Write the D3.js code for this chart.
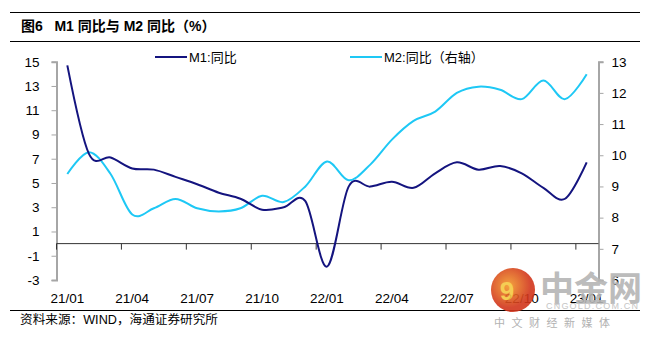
<!DOCTYPE html>
<html><head><meta charset="utf-8">
<script src="https://cdn.jsdelivr.net/npm/d3@7"></script>
<style>
body{margin:0;background:#fff;}
svg{display:block;font-family:Arial,"Liberation Sans","Noto Sans CJK SC",sans-serif;}
</style></head>
<body><svg id="c" width="647" height="339"></svg>
<script>
const months = ["21/01","21/02","21/03","21/04","21/05","21/06","21/07","21/08","21/09","21/10","21/11","21/12",
  "22/01","22/02","22/03","22/04","22/05","22/06","22/07","22/08","22/09","22/10","22/11","22/12","23/01"];
const m1 = [14.7,7.4,7.1,6.2,6.1,5.5,4.9,4.2,3.7,2.8,3.0,3.5,-1.9,4.7,4.7,5.1,4.6,5.8,6.7,6.1,6.4,5.8,4.6,3.7,6.7];
const m2 = [9.4,10.1,9.4,8.1,8.3,8.6,8.3,8.2,8.3,8.7,8.5,9.0,9.8,9.2,9.7,10.5,11.1,11.4,12.0,12.2,12.1,11.8,12.4,11.8,12.6];
const leftTicks = [-3,-1,1,3,5,7,9,11,13,15];
const rightTicks = [6,7,8,9,10,11,12,13];
const xLabels = ["21/01","21/04","21/07","21/10","22/01","22/04","22/07","22/10","23/01"];
const title = "图6   M1 同比与 M2 同比（%）";
const source = "资料来源：WIND，海通证券研究所";

const svg = d3.select("#c");
const x = d3.scaleBand().domain(months).range([56.5, 597.5]);
const xc = d => x(d) + x.bandwidth()/2;
const yL = d3.scaleLinear().domain([-3,15]).range([280, 61.7]);
const yR = d3.scaleLinear().domain([6,13]).range([280, 61.7]);

// header / footer rules
svg.append("line").attr("x1",10).attr("x2",640).attr("y1",12.5).attr("y2",12.5).attr("stroke","#000").attr("stroke-width",1.2);
svg.append("line").attr("x1",10).attr("x2",640).attr("y1",41.5).attr("y2",41.5).attr("stroke","#000").attr("stroke-width",1.2);
svg.append("line").attr("x1",10).attr("x2",640).attr("y1",310.5).attr("y2",310.5).attr("stroke","#000").attr("stroke-width",1.2);
svg.append("text").attr("x",21).attr("y",31).attr("font-size",14).attr("font-weight","bold").attr("fill","#000")
  .attr("xml:space","preserve").style("white-space","pre").text(title);
svg.append("text").attr("x",20).attr("y",324).attr("font-size",12).attr("fill","#000")
  .attr("textLength",198).attr("lengthAdjust","spacingAndGlyphs").text(source);

// axes
const fmt = d => String(d);
const axL = svg.append("g").attr("transform","translate(56.5,0)")
  .call(d3.axisLeft(yL).tickValues(leftTicks).tickFormat(fmt).tickSize(5).tickPadding(12));
const axR = svg.append("g").attr("transform","translate(598.5,0)")
  .call(d3.axisRight(yR).tickValues(rightTicks).tickFormat(fmt).tickSize(5).tickPadding(8));
[axL,axR].forEach(a=>{
  a.select(".domain").attr("stroke","#a6a6a6").attr("stroke-width",2);
  a.selectAll(".tick line").attr("stroke","#a6a6a6").attr("stroke-width",1);
  a.selectAll("text").attr("font-size",13.5).attr("fill","#000").attr("font-family","Arial,'Liberation Sans',sans-serif");
});

// zero line and x ticks
const y0 = yL(0);
svg.append("line").attr("x1",56.5).attr("x2",598.5).attr("y1",y0).attr("y2",y0).attr("stroke","#333").attr("stroke-width",1);
const tickIdx = d3.range(0, months.length, 3);
svg.selectAll(".xt").data(tickIdx).enter().append("line")
  .attr("x1",i=>x(months[i])).attr("x2",i=>x(months[i]))
  .attr("y1",y0).attr("y2",y0+6).attr("stroke","#333").attr("stroke-width",1);
svg.selectAll(".xl").data(xLabels).enter().append("text")
  .attr("x",d=>xc(d)).attr("y",303).attr("text-anchor","middle").attr("font-size",13.5).attr("fill","#000").text(d=>d);

// lines
const lineL = d3.line().x((d,i)=>xc(months[i])).y(d=>yL(d)).curve(d3.curveCardinal.tension(0));
const lineR = d3.line().x((d,i)=>xc(months[i])).y(d=>yR(d)).curve(d3.curveCardinal.tension(0));
svg.append("path").attr("d",lineR(m2)).attr("fill","none").attr("stroke","#1ec8f5").attr("stroke-width",2);
svg.append("path").attr("d",lineL(m1)).attr("fill","none").attr("stroke","#14147f").attr("stroke-width",2);

// legend
svg.append("line").attr("x1",155).attr("x2",187).attr("y1",57).attr("y2",57).attr("stroke","#14147f").attr("stroke-width",2);
svg.append("text").attr("x",189).attr("y",61.5).attr("font-size",13).text("M1:同比");
svg.append("line").attr("x1",350).attr("x2",382).attr("y1",57).attr("y2",57).attr("stroke","#1ec8f5").attr("stroke-width",2);
svg.append("text").attr("x",384).attr("y",61.5).attr("font-size",13).text("M2:同比（右轴）");

// watermark
const wm = svg.append("g").attr("opacity",0.9);
const grad = svg.append("defs").append("radialGradient").attr("id","wg").attr("cx","40%").attr("cy","40%");
grad.append("stop").attr("offset","0%").attr("stop-color","#f39a2a");
grad.append("stop").attr("offset","100%").attr("stop-color","#d2361c");
wm.append("circle").attr("cx",513).attr("cy",290).attr("r",22).attr("fill","url(#wg)");
wm.append("text").attr("x",507).attr("y",300).attr("font-size",26).attr("font-weight","bold").attr("fill","#f5c842").attr("text-anchor","middle").text("9");
wm.append("text").attr("x",540).attr("y",301).attr("font-size",34).attr("font-weight","bold").attr("fill","#b5b5b5").attr("font-family","'Noto Sans CJK SC',sans-serif").text("中金网");
wm.append("text").attr("x",546).attr("y",309).attr("font-size",9).attr("fill","#c0c0c0").attr("textLength",92).text("CNGOLD.COM.CN");
wm.append("text").attr("x",494).attr("y",327).attr("font-size",11).attr("fill","#aaa").attr("letter-spacing","6.5").text("中文财经新媒体");
</script></body></html>
